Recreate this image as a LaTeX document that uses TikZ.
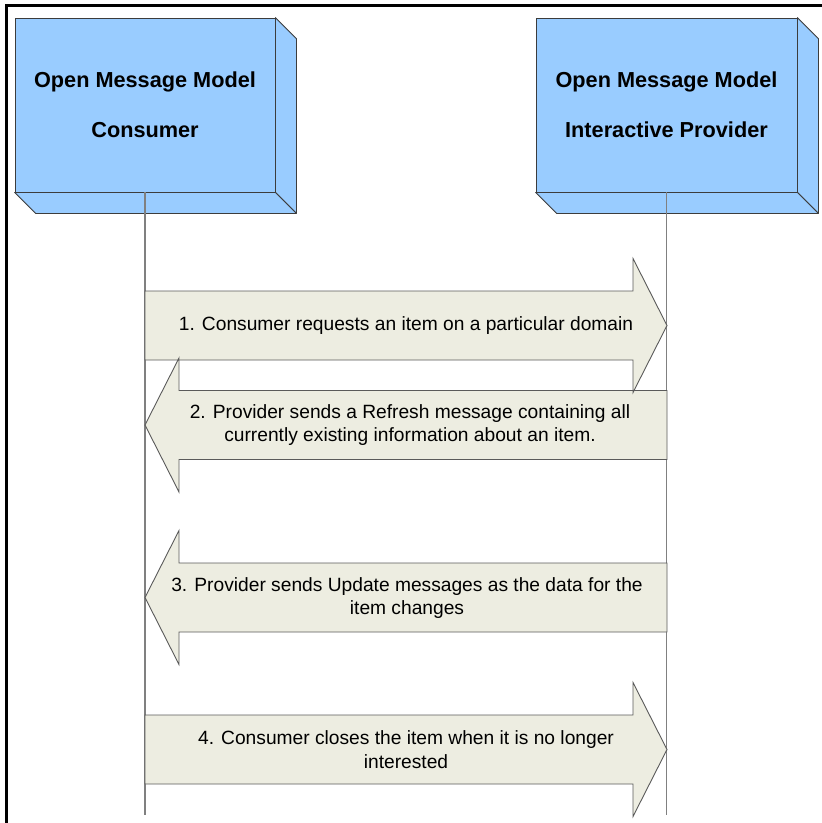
\documentclass[tikz,border=0pt]{standalone}
\usepackage{fontspec}
\setmainfont{Liberation Sans}
\definecolor{boxc}{RGB}{153,204,255}
\definecolor{edgec}{RGB}{60,60,60}
\definecolor{lifec}{RGB}{128,128,128}
\definecolor{arrc}{RGB}{237,237,225}
\definecolor{arrlinec}{RGB}{90,90,90}
\newcommand\xL{145}
\newcommand\xR{667}
\newcommand\rshape[1]{(\xL,#1-34.5) -- (\xR-34,#1-34.5) -- (\xR-34,#1-67) -- (\xR,#1) -- (\xR-34,#1+67) -- (\xR-34,#1+34.5) -- (\xL,#1+34.5) -- cycle}
\newcommand\lshape[1]{(\xR,#1-34.5) -- (\xL+34,#1-34.5) -- (\xL+34,#1-67) -- (\xL,#1) -- (\xL+34,#1+67) -- (\xL+34,#1+34.5) -- (\xR,#1+34.5) -- cycle}
\begin{document}
\begin{tikzpicture}[x=1pt,y=-1pt,
  box/.style={draw=edgec, fill=boxc, line width=0.8pt, minimum width=260pt, minimum height=174pt, inner sep=0pt, align=center, font=\bfseries\fontsize{21.7}{50}\selectfont},
  face/.style={draw=edgec, fill=boxc, line width=0.8pt, line join=round},
  life/.style={draw=lifec, line width=1.4pt},
  msgfill/.style={fill=arrc},
  msgline/.style={draw=arrlinec, line width=0.9pt, line join=miter},
  msgtext/.style={align=center, font=\fontsize{19.2}{23.5}\selectfont, inner sep=0pt}]
\useasboundingbox (0,0) rectangle (822,823);
% frame
\draw[line width=3pt] (6.5,823) -- (6.5,5.5) -- (823,5.5);
% participants
\node[box] (cons) at (145,105) {Open Message Model\\Consumer};
\node[box, minimum width=261pt] (prov) at (666.5,105) {Open Message Model\\Interactive Provider};
\foreach \n in {cons,prov} {
  \path[face] (\n.north east) -- ++(21,21) -- ([shift={(21,21)}]\n.south east) -- (\n.south east) -- cycle;
  \path[face] (\n.south west) -- ++(21,21) -- ([shift={(21,21)}]\n.south east) -- (\n.south east) -- cycle;
}
% lifelines
\coordinate (consEnd) at (145.5,815);
\coordinate (provEnd) at (667,815);
\draw[life] (cons.south) -- (cons.south |- consEnd);
\draw[life] (prov.south) -- (prov.south |- provEnd);
% message arrows: fills then outlines
\path[msgfill] \rshape{325.5};
\path[msgfill] \lshape{425};
\path[msgfill] \lshape{597.5};
\path[msgfill] \rshape{749.5};
\path[msgline] \rshape{325.5};
\path[msgline] \lshape{425};
\path[msgline] \lshape{597.5};
\path[msgline] \rshape{749.5};
% labels
\node[msgtext] (t1) at (406,326) {1. Consumer requests an item on a particular domain};
\node[msgtext] (t2) at (410,425) {2. Provider sends a Refresh message containing all\\currently existing information about an item.};
\node[msgtext] (t3) at (407,598) {3. Provider sends Update messages as the data for the\\item changes};
\node[msgtext] (t4) at (406,749.5) {4. Consumer closes the item when it is no longer\\interested};
\end{tikzpicture}
\end{document}
